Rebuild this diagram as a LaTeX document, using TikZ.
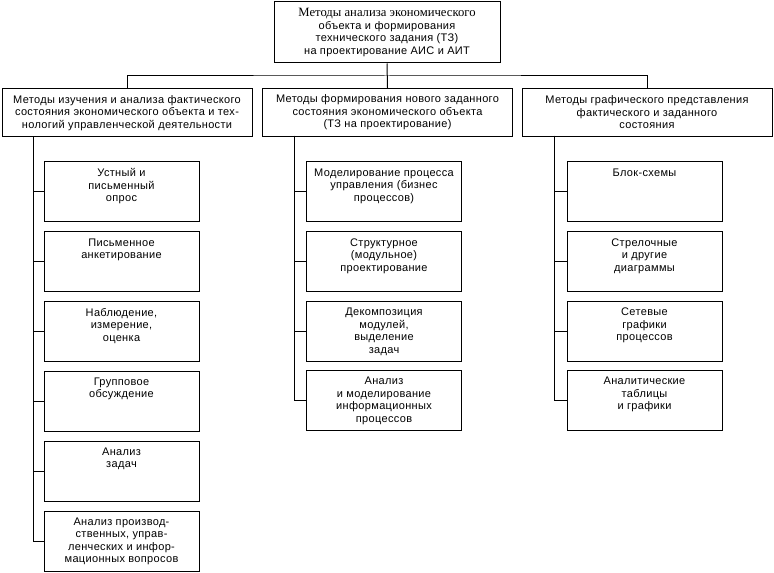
\documentclass[tikz,border=0pt]{standalone}
\usepackage{fontspec}
\setmainfont[LetterSpace=3]{Liberation Sans}
\newfontfamily\serifcyr{Liberation Serif}
\begin{document}
\begin{tikzpicture}[x=0.75pt,y=-0.75pt,line width=0.75pt,
  every node/.style={font=\fontsize{8.25pt}{9.4pt}\selectfont},
  box/.style={draw, minimum width=116.25pt, minimum height=45pt, inner sep=0pt},
  hdr/.style={draw, minimum width=187.5pt, minimum height=36pt, align=center, inner sep=0pt},
  topbox/.style={draw, minimum width=169.5pt, minimum height=45.75pt, align=center, inner sep=0pt},
  tl/.style={align=center, anchor=north, inner sep=0pt, yshift=-5pt}
]
\useasboundingbox (0,0) rectangle (774,573);

\node[topbox] (top) at (387,32.5) {{\serifcyr\fontsize{9.5pt}{9.2pt}\selectfont Методы анализа экономического}\\объекта и формирования\\технического задания (ТЗ)\\на проектирование АИС и АИТ};

\node[hdr] (h1) at (127,113) {Методы изучения и анализа фактического\\состояния экономического объекта и тех-\\нологий управленческой деятельности};
\node[hdr] (h2) at (387.5,112.5) {Методы формирования нового заданного\\состояния экономического объекта\\(ТЗ на проектирование)};
\node[hdr] (h3) at (647,112.5) {Методы графического представления\\фактического и заданного\\состояния};

\coordinate (bus) at (387,76);
\draw (top.south) -- (h2.north);
\draw (h1.north) |- (bus) -| (h3.north);

% left column
\node[box, label={[tl]north:{Устный и\\письменный\\опрос}}] (l1) at (121.5,192) {};
\node[box, label={[tl]north:{Письменное\\анкетирование}}] (l2) at (121.5,262) {};
\node[box, label={[tl]north:{Наблюдение,\\измерение,\\оценка}}] (l3) at (121.5,331.5) {};
\node[box, label={[tl]north:{Групповое\\обсуждение}}] (l4) at (121.5,401) {};
\node[box, label={[tl]north:{Анализ\\задач}}] (l5) at (121.5,471) {};
\node[box, label={[tl]north:{Анализ производ-\\ственных, управ-\\ленческих и инфор-\\мационных вопросов}}] (l6) at (121.5,541) {};

% middle column
\node[box, label={[tl]north:{Моделирование процесса\\управления (бизнес\\процессов)}}] (m1) at (384,192) {};
\node[box, label={[tl]north:{Структурное\\(модульное)\\проектирование}}] (m2) at (384,262) {};
\node[box, label={[tl]north:{Декомпозиция\\модулей,\\выделение\\задач}}] (m3) at (384,331.5) {};
\node[box, label={[tl]north:{Анализ\\и моделирование\\информационных\\процессов}}] (m4) at (384,400.5) {};

% right column
\node[box, label={[tl]north:{Блок-схемы}}] (r1) at (644.5,192) {};
\node[box, label={[tl]north:{Стрелочные\\и другие\\диаграммы}}] (r2) at (644.5,262) {};
\node[box, label={[tl]north:{Сетевые\\графики\\процессов}}] (r3) at (644.5,331.5) {};
\node[box, label={[tl]north:{Аналитические\\таблицы\\и графики}}] (r4) at (644.5,400.5) {};

\coordinate (c1) at (33,137);
\coordinate (c2) at (294,136);
\coordinate (c3) at (554,136);
\foreach \n in {1,...,6} \draw (c1) |- (l\n.west);
\foreach \n in {1,...,4} \draw (c2) |- (m\n.west);
\foreach \n in {1,...,4} \draw (c3) |- (r\n.west);
\end{tikzpicture}
\end{document}
